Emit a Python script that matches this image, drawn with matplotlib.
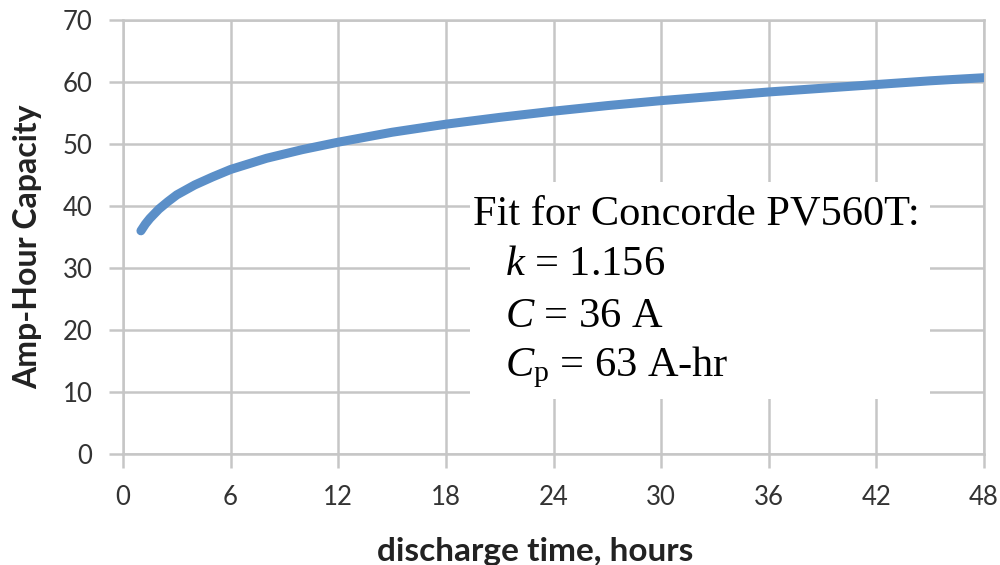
import matplotlib
matplotlib.use("Agg")
import matplotlib.pyplot as plt
from matplotlib.patches import Rectangle

# discharge time (hours) and amp-hour capacity
hours = [1, 1.25, 1.5, 2, 2.5, 3, 4, 5, 6, 8, 10, 12, 15, 18, 21, 24,
         27, 30, 33, 36, 39, 42, 45, 48]
capacity = [36.0, 37.1, 38.0, 39.5, 40.7, 41.8, 43.4, 44.7, 45.9, 47.7,
            49.1, 50.3, 51.9, 53.2, 54.3, 55.3, 56.2, 57.0, 57.7, 58.4,
            59.0, 59.6, 60.2, 60.7]

x_ticks = [0, 6, 12, 18, 24, 30, 36, 42, 48]
y_ticks = [0, 10, 20, 30, 40, 50, 60, 70]

fit_title = "Fit for Concorde PV560T:"
fit_lines = [r"$k$ = 1.156", r"$C$ = 36 A", r"$C_\mathrm{p}$ = 63 A-hr"]

plt.rcParams["mathtext.fontset"] = "custom"
plt.rcParams["mathtext.rm"] = "Liberation Serif"
plt.rcParams["mathtext.it"] = "Liberation Serif:italic"

grid_col = "#c6c6c6"
tick_col = "#333333"

fig = plt.figure(figsize=(10, 5.65), dpi=100)
ax = fig.add_axes([0.123, 0.1965, 0.861, 0.768])

ax.plot(hours, capacity, color="#5b8fc8", linewidth=6.5,
        solid_capstyle="round", zorder=3)

ax.set_xlim(0, 48)
ax.set_ylim(0, 70)
ax.set_xticks(x_ticks)
ax.set_yticks(y_ticks)
ax.grid(True, color=grid_col, linewidth=1.8, zorder=0)
ax.set_axisbelow(True)
for s in ax.spines.values():
    s.set_color(grid_col)
    s.set_linewidth(1.8)
ax.tick_params(axis="both", length=10, width=1.8, color=grid_col,
               pad=12, labelsize=18.5, labelcolor=tick_col)
for lab in ax.get_xticklabels() + ax.get_yticklabels():
    lab.set_fontfamily("Lato")

# white box holding the fit parameters
ax.add_patch(Rectangle((0.403, 0.127), 0.534, 0.50, transform=ax.transAxes,
                       facecolor="white", edgecolor="none", zorder=2))
ax.text(0.4065, 0.528, fit_title, transform=ax.transAxes, fontsize=30.5,
        fontfamily="Liberation Serif", va="baseline", ha="left", zorder=4)
line_y = [0.412, 0.293, 0.180]
for txt, yy in zip(fit_lines, line_y):
    ax.text(0.4437, yy, txt, transform=ax.transAxes, fontsize=30.5,
            fontfamily="Liberation Serif", va="baseline", ha="left", zorder=4)

fig.text(0.535, 1 - 561 / 565, "discharge time, hours", fontsize=24,
         fontweight="bold", fontfamily="Lato", color="#222222",
         ha="center", va="baseline")
fig.text(0.028, 1 - 247 / 565, "Amp-Hour Capacity", fontsize=23,
         fontweight="bold", fontfamily="Lato", color="#222222",
         ha="center", va="center", rotation=90)

fig.savefig("out.png", dpi=100)
